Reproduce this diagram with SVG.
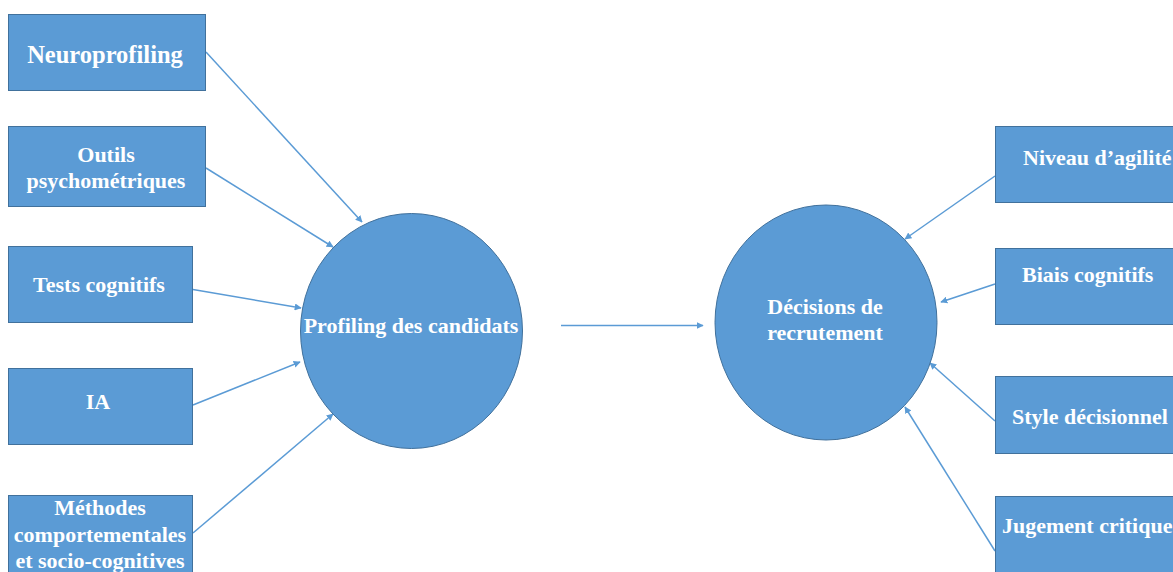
<svg xmlns="http://www.w3.org/2000/svg" width="1173" height="572" viewBox="0 0 1173 572">
<style>
.box{fill:#5B9BD5;stroke:#41719C;stroke-width:1}
.t{font-family:"Liberation Serif","Times New Roman",serif;font-weight:bold;fill:#ffffff;font-size:22px}
.c{stroke:#5B9BD5;stroke-width:1.5;fill:none;marker-end:url(#ah)}
</style>
<defs>
<marker id="ah" viewBox="0 0 10 10" refX="9" refY="5" markerWidth="7" markerHeight="7" orient="auto" markerUnits="userSpaceOnUse">
<path d="M0,0 L10,5 L0,10 z" fill="#5B9BD5"/>
</marker>
</defs>
<rect width="1173" height="572" fill="#ffffff"/>
<g id="connectors">
<line class="c" x1="206" y1="52" x2="362" y2="222"/>
<line class="c" x1="206" y1="168" x2="333" y2="247"/>
<line class="c" x1="193" y1="289.5" x2="301" y2="308"/>
<line class="c" x1="193" y1="405" x2="300" y2="362"/>
<line class="c" x1="193" y1="533" x2="333" y2="414"/>
<line class="c" x1="561" y1="325.5" x2="703" y2="325.5"/>
<line class="c" x1="995" y1="176" x2="905" y2="239"/>
<line class="c" x1="995" y1="284" x2="941" y2="302"/>
<line class="c" x1="995" y1="421" x2="930" y2="363"/>
<line class="c" x1="995" y1="551" x2="905" y2="407"/>
</g>
<g id="n-neuro">
<rect class="box" x="8.5" y="14.5" width="197" height="76"/>
<text class="t" x="105" y="63" text-anchor="middle" style="font-size:24.5px">Neuroprofiling</text>
</g>
<g id="n-outils">
<rect class="box" x="8.5" y="126.5" width="197" height="80"/>
<text class="t" x="106" y="162" text-anchor="middle">Outils</text>
<text class="t" x="106" y="188" text-anchor="middle">psychométriques</text>
</g>
<g id="n-tests">
<rect class="box" x="8.5" y="246.5" width="184" height="76"/>
<text class="t" x="99" y="292" text-anchor="middle">Tests cognitifs</text>
</g>
<g id="n-ia">
<rect class="box" x="8.5" y="368.5" width="184" height="76"/>
<text class="t" x="98" y="409" text-anchor="middle">IA</text>
</g>
<g id="n-methodes">
<rect class="box" x="8.5" y="495.5" width="184" height="90"/>
<text class="t" x="100" y="515" text-anchor="middle">Méthodes</text>
<text class="t" x="100" y="542" text-anchor="middle">comportementales</text>
<text class="t" x="100" y="568" text-anchor="middle">et socio-cognitives</text>
</g>
<g id="n-profiling">
<ellipse class="box" cx="411.5" cy="331" rx="111" ry="117.5"/>
<text class="t" x="411" y="333" text-anchor="middle">Profiling des candidats</text>
</g>
<g id="n-decisions">
<ellipse class="box" cx="826" cy="322.5" rx="111" ry="117.5"/>
<text class="t" x="825" y="314" text-anchor="middle">Décisions de</text>
<text class="t" x="825" y="340" text-anchor="middle">recrutement</text>
</g>
<g id="n-agilite">
<rect class="box" x="995.5" y="126.5" width="190" height="76"/>
<text class="t" x="1023" y="165">Niveau d’agilité</text>
</g>
<g id="n-biais">
<rect class="box" x="995.5" y="248.5" width="190" height="76"/>
<text class="t" x="1022" y="282">Biais cognitifs</text>
</g>
<g id="n-style">
<rect class="box" x="995.5" y="376.5" width="190" height="77"/>
<text class="t" x="1012" y="424">Style décisionnel</text>
</g>
<g id="n-jugement">
<rect class="box" x="995.5" y="496.5" width="190" height="90"/>
<text class="t" x="1002" y="533">Jugement critique</text>
</g>
</svg>
